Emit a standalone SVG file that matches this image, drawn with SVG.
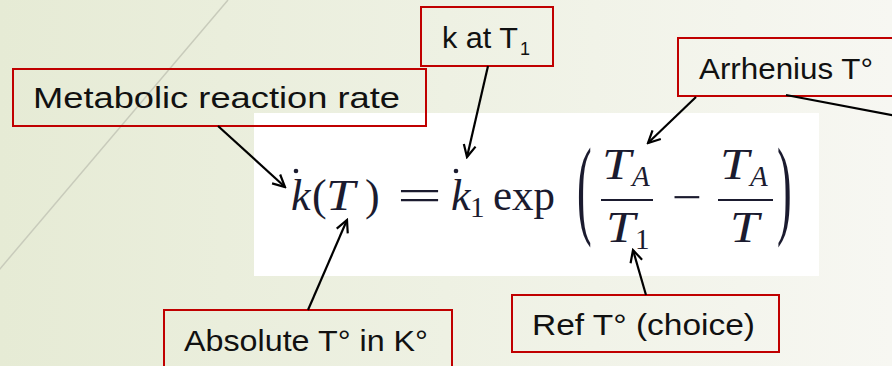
<svg xmlns="http://www.w3.org/2000/svg" width="892" height="366" viewBox="0 0 892 366">
  <defs>
    <linearGradient id="bg" x1="0" y1="0" x2="1" y2="0">
      <stop offset="0" stop-color="#e6ebd5"/>
      <stop offset="0.5" stop-color="#eef1e3"/>
      <stop offset="1" stop-color="#f7f7f2"/>
    </linearGradient>
    <marker id="arrow" viewBox="0 0 16 16" refX="14" refY="8" markerWidth="16" markerHeight="16" markerUnits="userSpaceOnUse" orient="auto">
      <path d="M2,2 L14,8 L2,14" fill="none" stroke="#000" stroke-width="2.2" stroke-linejoin="miter"/>
    </marker>
  </defs>
  <style>
    .box { fill: none; stroke: #c00000; stroke-width: 2; }
    .lbl { font-family: "Liberation Sans", Arial, sans-serif; font-size: 29px; fill: #111; }
    .conn { stroke: #000; stroke-width: 2.2; fill: none; }
    .m { font-family: "Liberation Serif", "DejaVu Serif", serif; font-size: 44px; fill: #1b1b2f; }
    .mi { font-style: italic; }
    .sub { font-size: 29px; }
  </style>

  <rect x="0" y="0" width="892" height="366" fill="url(#bg)"/>
  <line x1="228" y1="0" x2="-1" y2="270" stroke="#c8cbbb" stroke-width="1.5"/>

  <g id="formula">
    <rect x="254" y="113" width="565" height="163" fill="#ffffff"/>
    <text class="m mi" x="291" y="210">k</text>
    <circle cx="296" cy="171" r="2.3" fill="#1b1b2f"/>
    <text class="m" x="312" y="210">(</text>
    <text class="m mi" x="326" y="210" textLength="29" lengthAdjust="spacingAndGlyphs">T</text>
    <text class="m" x="365" y="210">)</text>
    <text class="m" x="397" y="210" textLength="45" lengthAdjust="spacingAndGlyphs">=</text>
    <text class="m mi" x="451" y="210">k</text>
    <circle cx="456" cy="171" r="2.3" fill="#1b1b2f"/>
    <text class="m sub" x="470" y="217">1</text>
    <text class="m" x="493" y="210" textLength="62" lengthAdjust="spacingAndGlyphs">exp</text>
    <text class="m" transform="translate(577,224) scale(1,2.5)" x="0" y="0">(</text>
    <text class="m mi" x="602" y="179" textLength="29" lengthAdjust="spacingAndGlyphs">T</text>
    <text class="m mi sub" x="632" y="186">A</text>
    <line x1="601" y1="200" x2="653" y2="200" stroke="#1b1b2f" stroke-width="2"/>
    <text class="m mi" x="606" y="242" textLength="29" lengthAdjust="spacingAndGlyphs">T</text>
    <text class="m sub" x="635" y="249">1</text>
    <text class="m" x="672" y="212" textLength="30" lengthAdjust="spacingAndGlyphs">−</text>
    <text class="m mi" x="720" y="179" textLength="29" lengthAdjust="spacingAndGlyphs">T</text>
    <text class="m mi sub" x="750" y="186">A</text>
    <line x1="718" y1="200" x2="773" y2="200" stroke="#1b1b2f" stroke-width="2"/>
    <text class="m mi" x="730" y="242" textLength="29" lengthAdjust="spacingAndGlyphs">T</text>
    <text class="m" transform="translate(777,224) scale(1,2.5)" x="0" y="0">)</text>
  </g>

  <g id="metabolic">
    <rect class="box" x="13" y="69" width="413" height="57"/>
    <text class="lbl" x="33" y="108" textLength="367" lengthAdjust="spacingAndGlyphs">Metabolic reaction rate</text>
  </g>

  <g id="k-at-t1">
    <rect class="box" x="421" y="7" width="132" height="59"/>
    <text class="lbl" x="442" y="48" textLength="76" lengthAdjust="spacingAndGlyphs">k at T</text>
    <text class="lbl" x="520" y="55" style="font-size:18px">1</text>
  </g>

  <g id="arrhenius">
    <rect class="box" x="678" y="38" width="230" height="58"/>
    <text class="lbl" x="699" y="79" textLength="174" lengthAdjust="spacingAndGlyphs">Arrhenius T°</text>
  </g>

  <g id="absolute">
    <rect class="box" x="164" y="310" width="288" height="70"/>
    <text class="lbl" x="184" y="351" textLength="244" lengthAdjust="spacingAndGlyphs">Absolute T° in K°</text>
  </g>

  <g id="ref">
    <rect class="box" x="512" y="295" width="267" height="57"/>
    <text class="lbl" x="532" y="335" textLength="223" lengthAdjust="spacingAndGlyphs">Ref T° (choice)</text>
  </g>

  <g id="connectors">
    <line class="conn" x1="218" y1="126" x2="285" y2="187" marker-end="url(#arrow)"/>
    <line class="conn" x1="488" y1="66" x2="467" y2="157" marker-end="url(#arrow)"/>
    <line class="conn" x1="696" y1="97" x2="648" y2="143" marker-end="url(#arrow)"/>
    <line class="conn" x1="786" y1="95" x2="960" y2="128"/>
    <line class="conn" x1="308" y1="310" x2="347" y2="220" marker-end="url(#arrow)"/>
    <line class="conn" x1="646" y1="295" x2="633" y2="250" marker-end="url(#arrow)"/>
  </g>
</svg>
